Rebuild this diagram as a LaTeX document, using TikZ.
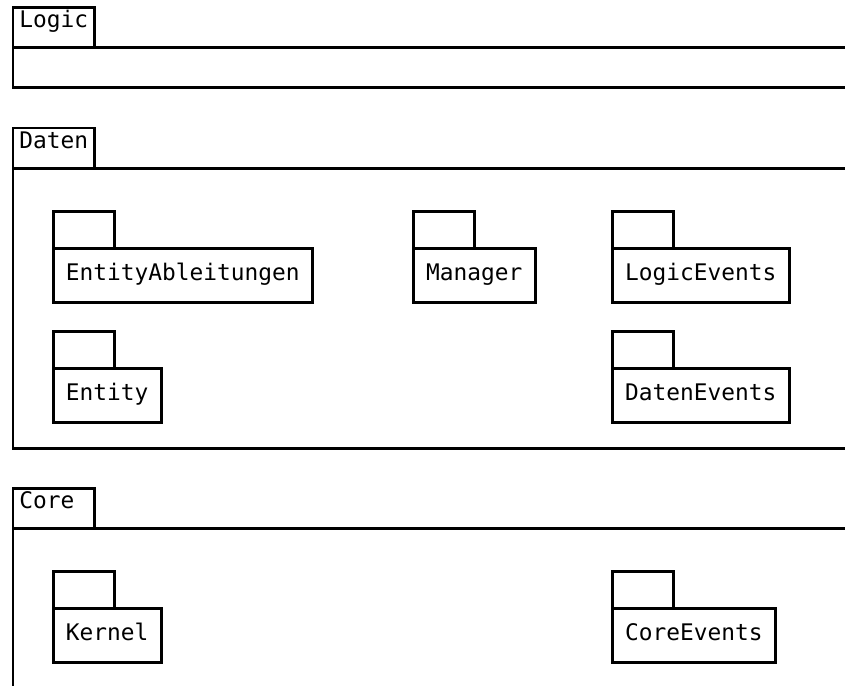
\documentclass[tikz,border=0pt]{standalone}
\usepackage{fontspec}
\setmonofont{DejaVu Sans Mono}
\usetikzlibrary{positioning}
\tikzset{
	pkgfont/.style={font=\ttfamily\fontsize{13}{15}\selectfont},
	pkg/.style={draw, pkgfont, anchor=north west, outer sep=0pt, minimum height=1.1cm, inner xsep=0.26cm, text height=0.76em, text depth=0.24em},
	pkgname/.style={pkgfont, anchor=base west, inner sep=0pt},
}
\begin{document}
\begin{tikzpicture}[x=0.02cm, y=-0.02cm, line width=0.06cm]
	\useasboundingbox (0,0) rectangle (845,686);
	\clip (0,0) rectangle (845,686);
	% outer packages
	\draw (13,8) rectangle (94,48) (13,48) rectangle (880,88);
	\node[pkgname] (logic) at (18,28) {Logic};
	\draw (13,128) rectangle (94,168) (13,168) rectangle (880,448);
	\node[pkgname] (daten) at (18,149) {Daten};
	\draw (13,488) rectangle (94,528) (13,528) rectangle (880,687);
	\node[pkgname] (core) at (18,508) {Core};
	% inner packages
	\node[pkg] (entabl) at (53,248) {EntityAbleitungen};
	\node[pkg] (manager) at (413,248) {Manager};
	\node[pkg] (logicev) at (612,248) {LogicEvents};
	\node[pkg] (entity) at (53,368) {Entity};
	\node[pkg] (datenev) at (612,368) {DatenEvents};
	\node[pkg] (kernel) at (53,608) {Kernel};
	\node[pkg] (coreev) at (612,608) {CoreEvents};
	\foreach \p in {entabl,manager,logicev,entity,datenev,kernel,coreev}
		\draw (\p.north west) rectangle ++(61,-37);
\end{tikzpicture}
\end{document}
